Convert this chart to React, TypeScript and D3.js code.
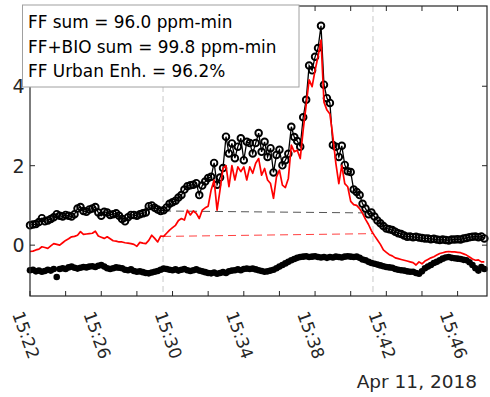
import React from "react";
import * as d3 from "d3";

// ---- data (10-second samples starting 15:22:00, Apr 11 2018) ----
const startTime = new Date(2018, 3, 11, 15, 22, 0);
const endTime = new Date(2018, 3, 11, 15, 47, 39);
const stepSeconds = 10;

// black open circles (observed enhancement, ppm)
const observed = [
  0.50, 0.52, 0.53, 0.58, 0.68, 0.60, 0.62, 0.66, 0.70, 0.78,
  0.74, 0.72, 0.76, 0.74, 0.72, 0.78, 0.92, 0.96, 0.86, 0.84,
  0.90, 0.92, 0.96, 0.82, 0.74, 0.84, 0.82, 0.76, 0.78, 0.80,
  0.74, 0.66, 0.60, 0.70, 0.76, 0.76, 0.74, 0.78, 0.80, 0.82,
  0.98, 1.00, 0.94, 0.90, 0.86, 0.88, 0.95, 1.04, 1.08, 1.12,
  1.20, 1.26, 1.40, 1.48, 1.51, 1.52, 1.56, 1.26, 1.50, 1.60,
  1.69, 1.72, 2.07, 1.52, 1.70, 1.94, 2.73, 2.31, 2.56, 2.19,
  2.48, 2.69, 2.14, 2.60, 2.57, 2.31, 2.57, 2.82, 2.35, 2.60,
  2.22, 2.44, 1.83, 2.27, 2.40, 2.01, 2.14, 2.30, 2.98, 2.72,
  2.62, 2.48, 3.22, 3.66, 4.52, 4.40, 4.74, 4.96, 5.52, 4.04,
  3.70, 3.58, 2.52, 2.48, 2.22, 2.50, 2.02, 1.86, 1.84, 1.40,
  1.34, 1.26, 1.04, 0.92, 0.78, 0.82, 0.72, 0.62, 0.55, 0.48,
  0.42, 0.40, 0.38, 0.34, 0.30, 0.28, 0.24, 0.21, 0.22, 0.20,
  0.21, 0.19, 0.18, 0.17, 0.17, 0.15, 0.16, 0.14, 0.13, 0.14,
  0.13, 0.12, 0.14, 0.14, 0.15, 0.14, 0.17, 0.18, 0.20, 0.21,
  0.22, 0.20, 0.22, 0.17,
];

// red line (fossil fuel enhancement, ppm)
const fossil = [
  -0.16, -0.15, -0.12, -0.10, -0.04, -0.06, -0.08, -0.02, 0.04, 0.02,
  0.00, 0.06, 0.12, 0.16, 0.21, 0.22, 0.25, 0.34, 0.27, 0.28,
  0.29, 0.30, 0.35, 0.23, 0.20, 0.17, 0.21, 0.16, 0.11, 0.10,
  0.08, 0.08, 0.06, 0.05, 0.04, 0.02, -0.03, 0.07, 0.05, 0.04,
  0.12, 0.25, 0.17, 0.08, 0.23, 0.22, 0.30, 0.38, 0.44, 0.50,
  0.62, 0.67, 0.63, 0.88, 0.76, 0.86, 0.80, 0.67, 0.88, 0.94,
  0.98, 1.39, 1.64, 0.88, 1.39, 1.93, 2.00, 1.47, 2.00, 1.64,
  1.97, 1.85, 1.97, 1.64, 1.97, 1.81, 2.06, 2.18, 1.76, 1.93,
  1.64, 1.55, 1.18, 1.72, 1.89, 1.51, 1.45, 1.68, 2.52, 2.35,
  2.39, 2.18, 2.90, 3.53, 4.16, 3.99, 4.40, 4.75, 5.16, 3.60,
  3.40, 3.30, 2.73, 2.06, 1.55, 2.01, 1.55, 1.47, 1.10, 1.02,
  1.00, 0.92, 0.80, 0.65, 0.52, 0.36, 0.24, 0.13, 0.02, -0.12,
  -0.18, -0.24, -0.27, -0.32, -0.34, -0.36, -0.38, -0.40, -0.42, -0.44,
  -0.50, -0.42, -0.47, -0.40, -0.36, -0.32, -0.29, -0.25, -0.21, -0.19,
  -0.17, -0.16, -0.17, -0.17, -0.18, -0.19, -0.22, -0.25, -0.30, -0.35,
  -0.38, -0.37, -0.42, -0.42,
];

// black filled dots (lower series, ppm)
const biogenic = [
  -0.63, -0.62, -0.66, -0.64, -0.67, -0.65, -0.62, -0.64, -0.60, -0.80,
  -0.60, -0.58, -0.60, -0.56, -0.54, -0.57, -0.59, -0.57, -0.55, -0.56,
  -0.54, -0.53, -0.55, -0.52, -0.50, -0.54, -0.58, -0.60, -0.58, -0.56,
  -0.57, -0.58, -0.62, -0.63, -0.61, -0.65, -0.67, -0.66, -0.68, -0.70,
  -0.71, -0.69, -0.67, -0.65, -0.62, -0.59, -0.60, -0.62, -0.63, -0.61,
  -0.64, -0.62, -0.60, -0.63, -0.65, -0.63, -0.61, -0.64, -0.66, -0.68,
  -0.70, -0.71, -0.69, -0.72, -0.70, -0.68, -0.70, -0.66, -0.64, -0.63,
  -0.61, -0.63, -0.60, -0.59, -0.60, -0.59, -0.61, -0.63, -0.65, -0.67,
  -0.66, -0.64, -0.62, -0.58, -0.54, -0.50, -0.46, -0.42, -0.38, -0.35,
  -0.32, -0.30, -0.29, -0.28, -0.30, -0.29, -0.28, -0.30, -0.31, -0.30,
  -0.32, -0.30, -0.31, -0.29, -0.30, -0.31, -0.29, -0.28, -0.29, -0.30,
  -0.29, -0.32, -0.36, -0.38, -0.42, -0.45, -0.47, -0.49, -0.51, -0.53,
  -0.55, -0.56, -0.57, -0.60, -0.62, -0.63, -0.64, -0.66, -0.67, -0.67,
  -0.70, -0.72, -0.66, -0.58, -0.54, -0.50, -0.45, -0.42, -0.38, -0.34,
  -0.31, -0.30, -0.32, -0.33, -0.34, -0.35, -0.37, -0.38, -0.43, -0.50,
  -0.58, -0.64, -0.55, -0.60,
];

// plume window and background lines
const windowTimes = [new Date(2018, 3, 11, 15, 29, 28), new Date(2018, 3, 11, 15, 41, 15)];
const bgObserved = [0.86, 0.81];
const bgFossil = [0.22, 0.29];

const yTickValues = [0, 2, 4];
const legendLines = [
  "FF sum = 96.0 ppm-min",
  "FF+BIO sum = 99.8 ppm-min",
  "FF Urban Enh. = 96.2%",
];
const dateLabel = "Apr 11, 2018";

const W = 490;
const H = 397;
const L = 30, R = 487, T = 6, B = 296;
const AX = "#262626";
const FONT = "'DejaVu Sans', sans-serif";

export default function App() {
  const timeAt = (i: number) => new Date(startTime.getTime() + i * stepSeconds * 1000);
  const x = d3.scaleTime().domain([startTime, endTime]).range([L, R]);
  const y = d3.scaleLinear().domain([-1.28, 6.02]).range([B, T]);

  const lineGen = d3
    .line<number>()
    .x((_, i) => x(timeAt(i)))
    .y((d) => y(d));

  const bgLine = d3
    .line<number>()
    .x((_, i) => x(windowTimes[i]))
    .y((d) => y(d));

  const xTicks = d3.timeMinute.every(2)!.range(startTime, endTime);
  const xLabelTicks = xTicks.filter((_, i) => i % 2 === 0);
  const fmt = d3.timeFormat("%H:%M");

  return (
    <svg
      width={W}
      height={H}
      style={{ position: "absolute", left: 0, top: 0, background: "#fff" }}
      fontFamily={FONT}
    >
      <rect x={0} y={0} width={W} height={H} fill="#fff" />
      {/* vertical dashed window lines */}
      {windowTimes.map((t, i) => (
        <line
          key={"v" + i}
          x1={x(t)}
          x2={x(t)}
          y1={T}
          y2={B}
          stroke="#c8c8c8"
          strokeWidth={1}
          strokeDasharray="6,4"
        />
      ))}
      {/* background dashed lines */}
      <path d={bgLine(bgObserved) || ""} fill="none" stroke="#555" strokeWidth={1} strokeDasharray="8,5" />
      <path d={bgLine(bgFossil) || ""} fill="none" stroke="#ff4040" strokeWidth={1} strokeDasharray="8,5" />

      {/* lower dots */}
      {biogenic.map((v, i) => (
        <circle key={"b" + i} cx={x(timeAt(i))} cy={y(v)} r={3.3} fill="#000" />
      ))}

      {/* observed line + circles */}
      <path d={lineGen(observed) || ""} fill="none" stroke="#000" strokeWidth={1.3} />
      {observed.map((v, i) => (
        <circle key={"o" + i} cx={x(timeAt(i))} cy={y(v)} r={3.3} fill="none" stroke="#000" strokeWidth={1.9} />
      ))}

      {/* red line */}
      <path d={lineGen(fossil) || ""} fill="none" stroke="#ff0000" strokeWidth={1.7} strokeLinejoin="round" />

      {/* axes box */}
      <rect x={L} y={T} width={R - L} height={B - T} fill="none" stroke={AX} strokeWidth={1.2} />
      {xTicks.map((t, i) => (
        <g key={"xt" + i}>
          <line x1={x(t)} x2={x(t)} y1={B} y2={B - 5} stroke={AX} strokeWidth={1} />
          <line x1={x(t)} x2={x(t)} y1={T} y2={T + 5} stroke={AX} strokeWidth={1} />
        </g>
      ))}
      {yTickValues.map((v) => (
        <g key={"yt" + v}>
          <line x1={L} x2={L + 5} y1={y(v)} y2={y(v)} stroke={AX} strokeWidth={1} />
          <line x1={R} x2={R - 5} y1={y(v)} y2={y(v)} stroke={AX} strokeWidth={1} />
          <text x={24.5} y={y(v)} textAnchor="end" dominantBaseline="central" fontSize={19} fill={AX}>
            {v}
          </text>
        </g>
      ))}
      {xLabelTicks.map((t, i) => (
        <text
          key={"xl" + i}
          transform={`translate(${x(t) - 4},${335}) rotate(70)`}
          textAnchor="middle"
          dominantBaseline="central"
          fontSize={17}
          fill={AX}
        >
          {fmt(t)}
        </text>
      ))}
      <text x={477} y={388} textAnchor="end" fontSize={18.5} fill={AX}>
        {dateLabel}
      </text>

      {/* legend text box */}
      <rect x={22.5} y={5} width={276.5} height={82} fill="#fff" stroke="#a0a0a0" strokeWidth={1} />
      {legendLines.map((s, i) => (
        <text key={"lg" + i} x={28} y={28.3 + i * 24.2} fontSize={16.9} fill="#000">
          {s}
        </text>
      ))}
    </svg>
  );
}
